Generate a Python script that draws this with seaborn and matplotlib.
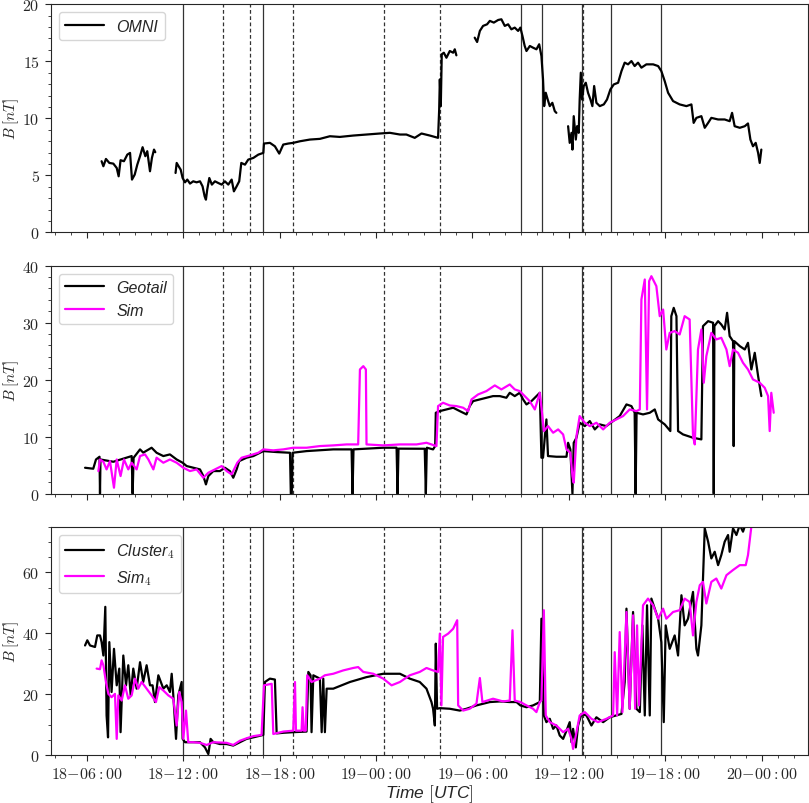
"""Magnetic field magnitude: OMNI, Geotail and Cluster-4 vs simulation"""

import matplotlib
matplotlib.use("Agg")
import matplotlib.pyplot as plt
import matplotlib.dates as mdates
from matplotlib.ticker import AutoMinorLocator, MultipleLocator, StrMethodFormatter
import numpy as np
import pandas as pd
import seaborn as sns

nan = np.nan
T0 = pd.Timestamp("2003-11-18 00:00")

# hours since 18-00:00 UTC, B in nT (NaN = data gap)
omni_t = [6.93, 7.04, 7.20, 7.41, 7.66, 7.87, 7.99, 8.11, 8.32, 8.53, 8.70, 8.82, 8.99, 9.15,
          9.32, 9.48, 9.65, 9.77, 9.94, 10.06, 10.19, 10.27, nan,
          11.53, 11.60, 11.72, 11.85, 11.97, 12.12, 12.26, 12.43, 12.63, 12.84, 13.05, 13.21,
          13.34, 13.42, 13.50, 13.63, 13.79, 13.98, 14.19, 14.40, 14.60, 14.81, 15.02, 15.16,
          15.33, 15.49, 15.62, 15.85, 16.05, 16.37, 16.68, 16.99, 17.03, 17.40, 17.71, 17.98,
          18.23, 18.54, 18.85, 19.27, 19.89, 20.51, 21.13, 21.75, 22.58, 23.41, 24.24, 24.86,
          25.49, 25.89, 26.41, 26.83, 27.35, 27.86, 27.93, 27.97, 28.03, 28.09, 28.22, 28.38,
          28.59, 28.80, 28.90, 29.00, nan,
          30.14, 30.29, 30.46, 30.66, 30.91, 31.08, 31.33, 31.60, 31.80, 32.01, 32.22, 32.42,
          32.63, 32.84, 32.98, 33.11, 33.25, 33.36, 33.57, 33.77, 33.98, 34.15, 34.29, 34.39,
          34.46, 34.56, 34.68, 34.81, 34.97, 35.12, 35.22, nan,
          35.95, 36.05, 36.16, 36.22, 36.30, 36.43, 36.51, 36.61, 36.67, 36.74, 36.82, 36.92,
          37.05, 37.19, 37.34, 37.46, 37.57, 37.71, 37.92, 38.17, 38.37, 38.58, 38.79, 39.06,
          39.27, 39.47, 39.68, 39.89, 40.09, 40.30, 40.51, 40.82, 41.24, 41.55, 41.75, 41.96,
          42.17, 42.48, 42.89, 43.31, 43.62, 43.76, 43.93, 44.24, 44.45, 44.66, 44.86, 45.28,
          45.69, 46.00, 46.15, 46.31, 46.63, 46.94, 47.14, 47.29, 47.45, 47.62, 47.77, 47.87,
          47.97]
omni_b = [6.24, 5.80, 6.44, 6.09, 6.03, 5.65, 4.92, 6.33, 6.24, 6.82, 6.97, 4.63, 5.07, 5.94,
          6.68, 7.47, 6.68, 7.12, 5.36, 6.53, 7.26, 7.03, nan,
          5.21, 6.09, 5.80, 5.50, 4.77, 4.39, 4.63, 4.28, 4.48, 4.39, 4.48, 4.04,
          3.16, 2.87, 3.75, 4.77, 4.19, 4.48, 4.33, 4.19, 4.48, 4.19, 4.63, 3.60,
          4.04, 4.48, 6.09, 5.94, 6.38, 6.53, 6.82, 6.97, 7.79, 7.85, 7.55, 6.91,
          7.70, 7.79, 7.85, 7.99, 8.14, 8.20, 8.43, 8.37, 8.49, 8.58, 8.67, 8.73,
          8.58, 8.58, 8.29, 8.67, 8.49, 8.29, 10.78, 13.41, 11.07, 15.61, 15.75, 15.31,
          15.90, 15.75, 16.05, 15.52, nan,
          17.07, 16.69, 17.66, 18.10, 18.24, 18.54, 18.39, 18.62, 18.68, 18.10, 18.24, 17.80,
          17.95, 17.66, 17.95, 17.22, 16.34, 15.90, 16.34, 16.19, 16.05, 16.49, 15.46, 13.41,
          11.07, 12.24, 11.65, 11.07, 11.36, 10.63, 10.48, nan,
          9.31, 7.85, 8.73, 7.26, 10.19, 8.14, 9.31, 8.73, 11.65, 14.00, 11.65, 12.83,
          13.12, 12.24, 11.65, 11.07, 12.83, 11.36, 11.07, 11.22, 11.65, 12.53, 12.97, 13.12,
          14.14, 14.88, 14.73, 15.02, 14.58, 14.88, 14.44, 14.73, 14.73, 14.58, 14.14, 13.26,
          12.24, 11.51, 11.22, 11.07, 11.22, 9.60, 10.04, 10.19, 9.17, 9.60, 10.04, 9.90,
          9.90, 9.75, 10.48, 9.31, 9.17, 9.31, 9.55, 8.14, 7.55, 7.85, 6.97, 6.09,
          7.26]

geotail_t = [5.90, 6.41, 6.58, 6.80, 6.83, 6.86, 7.66, 8.80, 8.86, 8.92, 9.32, 9.52, 10.04,
             10.35, 10.77, 11.18, 11.60, 11.97, 12.22, 12.63, 13.05, 13.26, 13.42, 13.57,
             13.88, 14.29, 14.60, 14.91, 15.12, 15.33, 15.49, 15.95, 16.37, 16.99, 17.82,
             18.65, 18.70, 18.76, 18.81, 19.68, 21.34, 22.48, 22.54, 22.60, 24.45, 25.28,
             25.34, 25.40, 27.03, 27.10, 27.16, 27.55, 27.68, 27.72, 27.97, 28.38, 28.80,
             29.21, 29.63, 29.83, 30.04, 30.46, 30.87, 31.28, 31.70, 32.11, 32.32, 32.63,
             32.94, 33.15, 33.36, 33.67, 33.98, 34.19, 34.29, 34.39, 34.60, 34.70, 35.22,
             35.85, 35.95, 36.09, 36.22, 36.30, 36.47, 36.67, 36.99, 37.30, 37.61, 37.92,
             38.33, 38.75, 39.16, 39.58, 39.89, 40.09, 40.15, 40.21, 40.61, 41.03, 41.34,
             41.55, 41.96, 42.31, 42.37, 42.52, 42.69, 42.79, 43.10, 43.72, 44.24, 44.34,
             44.66, 44.97, 45.01, 45.05, 45.28, 45.48, 45.69, 45.84, 46.00, 46.21, 46.25,
             46.29, 46.63, 46.94, 47.14, 47.35, 47.56, 47.77, 47.97]
geotail_b = [4.55, 4.38, 6.00, 6.48, 0.0, 6.00, 5.60, 6.60, 0.0, 6.30, 7.77, 7.20, 8.06,
             7.18, 6.60, 6.89, 6.00, 5.43, 4.85, 4.55, 4.26, 3.09, 1.63, 3.09,
             3.97, 3.97, 4.55, 3.97, 2.80, 4.26, 5.72, 6.31, 6.60, 7.47, 7.30,
             7.18, 0.0, 0.0, 7.18, 7.47, 7.77, 7.77, 0.0, 7.77, 8.06, 8.06,
             0.0, 7.90, 7.88, 0.0, 8.06, 7.77, 8.35, 14.19, 14.48, 14.77, 15.07,
             14.48, 13.90, 15.36, 16.23, 16.53, 16.82, 17.11, 17.11, 16.82, 17.69, 17.11,
             17.69, 16.53, 15.65, 16.23, 17.11, 17.69, 6.31, 6.31, 13.02, 6.60, 6.48,
             6.48, 8.93, 7.77, 0.0, 8.93, 9.81, 12.44, 11.85, 12.73, 11.27, 12.15,
             11.85, 12.73, 13.61, 15.65, 15.36, 14.19, 0.0, 14.19, 13.90, 14.19, 14.77,
             13.02, 12.15, 10.98, 31.12, 32.58, 31.12, 10.98, 10.39, 9.81, 9.52, 29.37,
             30.25, 29.96, 0.0, 29.37, 30.25, 29.66, 28.79, 31.71, 27.62, 26.74, 8.35,
             26.74, 25.87, 25.28, 26.45, 21.78, 24.70, 20.61, 17.11]

sim_t = [6.73, 6.83, 7.04, 7.24, 7.45, 7.70, 7.87, 8.11, 8.32, 8.59, 8.80, 9.11, 9.32, 9.63,
         9.84, 10.15, 10.35, 10.77, 11.18, 11.60, 12.01, 12.43, 12.84, 13.26, 13.57, 13.98,
         14.40, 14.71, 15.02, 15.37, 15.64, 16.16, 16.68, 16.99, 17.61, 18.23, 18.85, 19.68,
         20.51, 21.34, 22.17, 22.89, 23.00, 23.21, 23.37, 23.41, 24.45, 25.49, 26.52, 27.14,
         27.76, 27.86, 28.17, 28.59, 29.00, 29.42, 29.73, 29.94, 30.35, 30.87, 31.39, 31.80,
         32.32, 32.63, 32.94, 33.25, 33.56, 33.88, 34.19, 34.35, 34.44, 34.70, 35.02, 35.33,
         35.64, 35.85, 36.09, 36.22, 36.30, 36.47, 36.67, 36.99, 37.30, 37.71, 38.13, 38.54,
         38.95, 39.37, 39.78, 40.20, 40.41, 40.51, 40.72, 40.86, 40.99, 41.13, 41.44, 41.65,
         41.86, 42.06, 42.27, 42.58, 42.89, 43.20, 43.51, 43.72, 43.83, 44.03, 44.24, 44.39,
         44.55, 44.86, 45.17, 45.48, 45.80, 46.00, 46.21, 46.52, 46.83, 47.14, 47.45, 47.87,
         48.18, 48.39, 48.49, 48.59, 48.74]
sim_b = [3.97, 6.00, 5.60, 4.26, 5.72, 1.05, 6.00, 3.09, 6.00, 4.26, 5.43, 4.26, 6.60, 6.89,
         6.00, 4.26, 6.31, 5.43, 6.00, 5.43, 4.55, 3.97, 4.26, 2.80, 3.68, 4.26,
         4.85, 3.97, 3.39, 5.43, 6.31, 6.72, 7.18, 7.77, 7.60, 7.77, 8.06, 8.06,
         8.35, 8.47, 8.64, 8.64, 21.78, 22.36, 21.78, 8.64, 8.47, 8.64, 8.64, 8.93,
         8.35, 15.36, 15.94, 15.47, 15.36, 15.07, 14.48, 16.53, 17.40, 17.99, 18.98, 18.28,
         19.15, 18.28, 17.99, 17.11, 16.23, 14.77, 17.69, 13.61, 10.98, 11.85, 10.69, 11.27,
         10.39, 7.77, 7.18, 3.09, 1.93, 10.10, 13.61, 12.44, 11.85, 12.44, 11.27, 12.44,
         13.02, 13.61, 14.77, 14.48, 14.77, 34.04, 37.55, 14.77, 37.26, 38.13, 36.38, 31.12,
         32.29, 25.28, 28.20, 28.50, 27.91, 31.12, 30.54, 10.10, 8.64, 25.28, 28.79, 19.45,
         24.12, 28.20, 27.04, 27.33, 25.28, 22.36, 25.28, 24.70, 22.95, 21.78, 20.03, 19.45,
         18.57, 17.11, 10.98, 17.69, 14.19]

cluster_t = [5.90, 6.04, 6.21, 6.52, 6.66, 6.83, 6.93, 7.04, 7.16, 7.24, 7.33, 7.41, 7.55,
             7.70, 7.87, 8.03, 8.11, 8.28, 8.45, 8.59, 8.74, 8.90, 9.11, 9.32, 9.52, 9.73,
             9.94, 10.10, 10.25, 10.46, 10.77, 10.98, 11.18, 11.29, 11.39, 11.56, 11.70,
             11.91, 11.97, 12.12, 12.43, 13.05, 13.36, 13.57, 13.71, 13.88, 14.29, 14.71,
             15.12, 15.54, 15.95, 16.37, 16.99, 17.09, 17.40, 17.71, 17.82, 18.23, 18.85,
             19.68, 19.79, 19.93, 19.99, 20.10, 20.51, 20.62, 20.72, 20.82, 20.93, 21.34,
             22.38, 23.41, 24.45, 25.49, 26.10, 26.72, 27.14, 27.45, 27.55, 27.66, 27.72,
             27.80, 27.97, 28.59, 29.21, 29.63, 30.25, 31.08, 31.70, 32.32, 32.74, 32.98,
             33.36, 33.77, 34.19, 34.29, 34.44, 34.60, 34.81, 35.02, 35.22, 35.43, 35.64,
             35.85, 36.05, 36.16, 36.26, 36.43, 36.57, 36.78, 37.09, 37.40, 37.71, 38.13,
             38.54, 38.95, 39.27, 39.47, 39.58, 39.78, 39.99, 40.20, 40.41, 40.57, 40.72,
             40.86, 41.03, 41.13, 41.34, 41.55, 41.75, 41.90, 42.02, 42.27, 42.58, 42.79,
             43.00, 43.20, 43.41, 43.72, 43.93, 44.03, 44.24, 44.45, 44.66, 44.86, 45.07,
             45.28, 45.48, 45.69, 45.90, 46.00, 46.21, 46.42, 46.63, 46.83, 47.04, 47.25]
cluster_b = [36.0, 37.7, 36.0, 35.5, 39.3, 39.3, 37.1, 32.7, 48.7, 13.0, 5.8, 37.1, 20.7,
             34.9, 22.9, 28.4, 7.5, 32.7, 22.9, 29.5, 19.6, 28.4, 21.8, 30.5, 24.0, 29.5,
             22.9, 22.9, 17.4, 26.2, 21.8, 22.9, 20.7, 26.7, 19.6, 5.3, 19.6,
             24.0, 5.3, 4.2, 4.2, 4.2, 2.5, 0.3, 5.3, 4.2, 3.6, 3.6,
             3.1, 4.2, 5.3, 5.8, 6.6, 24.0, 25.1, 24.8, 7.1, 7.3, 7.5,
             7.7, 27.3, 26.2, 7.5, 26.2, 25.1, 7.5, 25.1, 7.5, 21.8, 21.8,
             24.0, 25.6, 26.7, 26.7, 25.1, 24.0, 21.8, 17.4, 15.2, 9.7, 36.6,
             15.2, 15.4, 15.2, 14.6, 15.2, 16.3, 17.4, 17.6, 17.4, 17.4, 16.3,
             15.7, 16.3, 17.4, 44.8, 13.0, 10.8, 11.9, 8.6, 9.7, 6.4, 5.3,
             8.0, 10.8, 4.2, 8.6, 2.5, 9.7, 13.5, 13.0, 9.7, 12.4, 10.8,
             12.4, 13.0, 13.5, 24.0, 48.1, 15.2, 47.0, 15.2, 14.1, 42.6, 13.0,
             49.2, 13.0, 51.4, 48.1, 44.8, 37.1, 10.8, 42.6, 34.9, 39.3, 32.7,
             52.5, 42.6, 44.8, 53.6, 34.9, 32.7, 42.6, 74.5, 70.1, 64.6, 66.8,
             62.4, 65.7, 70.1, 72.3, 66.8, 74.5, 72.3, 75.6, 73.4, 76.7, 78.9]

sim4_t = [6.62, 6.83, 6.93, 7.04, 7.20, 7.35, 7.55, 7.76, 7.87, 7.97, 8.18, 8.38, 8.59, 8.80,
          9.01, 9.21, 9.42, 9.73, 10.04, 10.31, 10.52, 10.77, 11.08, 11.39, 11.60, 11.76,
          11.91, 12.01, 12.18, 12.32, 12.63, 13.05, 13.46, 13.88, 14.71, 15.12, 15.54, 15.95,
          16.37, 16.88, 17.03, 17.51, 17.61, 18.23, 18.85, 18.96, 19.02, 19.37, 19.43, 19.51,
          19.63, 19.72, 19.99, 20.51, 20.82, 21.34, 21.96, 22.58, 22.89, 23.21, 23.83, 24.45,
          24.97, 25.49, 26.10, 26.72, 27.14, 27.55, 27.86, 27.97, 28.07, 28.17, 28.49, 28.80,
          29.05, 29.11, 29.42, 29.83, 30.25, 30.46, 30.62, 31.28, 31.91, 32.32, 32.49, 32.63,
          32.98, 33.36, 33.77, 33.98, 34.19, 34.29, 34.44, 34.56, 34.81, 35.22, 35.64, 35.95,
          36.16, 36.26, 36.43, 36.67, 36.99, 37.40, 37.81, 38.33, 38.75, 38.85, 39.00, 39.16,
          39.33, 39.58, 39.78, 39.99, 40.12, 40.24, 40.36, 40.61, 40.92, 41.24, 41.55, 41.86,
          42.06, 42.48, 42.89, 43.20, 43.51, 43.72, 43.93, 44.14, 44.34, 44.55, 44.86, 45.17,
          45.48, 45.80, 46.21, 46.63, 47.00, 47.14, 47.35, 47.56]
sim4_b = [28.4, 28.2, 31.1, 29.5, 24.0, 20.1, 19.0, 20.1, 5.3, 19.6, 17.9, 22.9, 18.5, 19.6,
          25.1, 21.8, 24.0, 21.8, 19.6, 17.4, 22.3, 21.2, 19.6, 18.5, 9.7, 20.7,
          17.4, 5.3, 14.6, 4.2, 4.2, 4.0, 3.3, 4.2, 4.0, 3.3, 4.7, 5.5,
          6.2, 6.6, 22.9, 23.4, 6.9, 7.7, 8.0, 24.0, 8.0, 8.0, 15.7, 8.0,
          8.0, 26.2, 24.0, 25.1, 26.2, 26.7, 27.8, 28.6, 28.9, 27.3, 26.7, 25.1,
          22.9, 24.0, 26.2, 27.3, 28.6, 27.8, 27.3, 39.9, 16.3, 38.8, 39.9, 41.5,
          44.3, 16.3, 14.6, 15.2, 16.9, 25.3, 17.4, 18.5, 17.6, 17.9, 41.0, 17.9,
          17.4, 16.3, 15.2, 14.1, 17.4, 17.9, 47.6, 13.0, 10.8, 9.7, 7.5, 8.6,
          5.3, 2.0, 6.4, 13.0, 14.1, 11.9, 10.8, 11.9, 13.0, 33.8, 13.0, 40.4,
          14.1, 47.0, 15.2, 45.9, 15.2, 42.6, 16.3, 49.2, 51.4, 49.2, 44.8, 48.1,
          44.8, 47.0, 47.6, 51.4, 50.3, 39.3, 50.3, 55.8, 56.9, 49.8, 56.9, 58.0,
          54.7, 59.1, 60.8, 62.4, 62.4, 65.7, 75.1, 78.9]

# event markers (hours since 18-00:00)
solid_events = [12.0, 17.0, 33.0, 34.33, 36.80, 38.63, 41.72]
dashed_events = [14.47, 16.15, 18.82, 24.48, 27.95, 36.86]

x_range = (3.78, 50.86)
y_max = [20, 40, 75]
y_step = [5, 10, 20]


def series_frame(hours, values, label):
    df = pd.DataFrame({"hours": hours, "B": values})
    df["seg"] = df["B"].isna().cumsum()
    df = df.dropna()
    df["time"] = T0 + pd.to_timedelta(df["hours"], unit="h")
    df["series"] = label
    return df


sns.set_style("ticks")
plt.rcParams["font.family"] = ["Liberation Sans", "DejaVu Sans"]
plt.rcParams["mathtext.fontset"] = "cm"

panels = [
    [series_frame(omni_t, omni_b, "OMNI")],
    [series_frame(geotail_t, geotail_b, "Geotail"), series_frame(sim_t, sim_b, "Sim")],
    [series_frame(cluster_t, cluster_b, "Cluster$_4$"), series_frame(sim4_t, sim4_b, "Sim$_4$")],
]
colors = ["black", "#ff00ff"]

fig, axes = plt.subplots(3, 1, figsize=(8.09, 8.04), dpi=100, sharex=True)
fig.subplots_adjust(left=0.063, right=0.9985, top=0.9935, bottom=0.0597, hspace=0.145)

legend_font = {"family": ["Liberation Sans"], "style": "italic", "size": 11.5}

for i, (ax, frames) in enumerate(zip(axes, panels)):
    df = pd.concat(frames, ignore_index=True)
    labels = [f["series"].iloc[0] for f in frames]
    palette = dict(zip(labels, colors))
    sns.lineplot(data=df, x="time", y="B", hue="series", hue_order=labels, units="seg",
                 estimator=None, palette=palette, linewidth=1.6, ax=ax)

    for t in solid_events:
        ax.axvline(T0 + pd.Timedelta(hours=t), color="0.2", lw=0.9, zorder=1)
    for t in dashed_events:
        ax.axvline(T0 + pd.Timedelta(hours=t), color="0.2", lw=0.9, ls=(0, (3, 2)), zorder=1)

    ax.set_xlim(T0 + pd.Timedelta(hours=x_range[0]), T0 + pd.Timedelta(hours=x_range[1]))
    ax.set_ylim(0, y_max[i])
    ax.yaxis.set_major_locator(MultipleLocator(y_step[i]))
    ax.yaxis.set_minor_locator(AutoMinorLocator())
    ax.yaxis.set_major_formatter(StrMethodFormatter("${x:.0f}$"))
    ax.set_ylabel(r"$B\;[nT]$", fontsize=11)
    ax.yaxis.set_label_coords(-0.040, 0.5)
    ax.set_xlabel("")
    ax.tick_params(which="both", direction="out", labelsize=11.5, colors="0.15")
    ax.tick_params(which="major", length=4.5)
    ax.tick_params(which="minor", length=2.5)

    sns.move_legend(ax, "upper left", title=None, prop=legend_font, handlelength=2.4,
                    frameon=True)

axes[2].xaxis.set_major_locator(mdates.HourLocator(byhour=[0, 6, 12, 18]))
axes[2].xaxis.set_minor_locator(mdates.HourLocator())
axes[2].xaxis.set_major_formatter(mdates.DateFormatter("$%d{-}%H:%M$"))
axes[2].set_xlabel("Time $[$UTC$]$", fontsize=12.5, fontstyle="italic", labelpad=1)

fig.savefig("out.png", dpi=100)
plt.close(fig)
